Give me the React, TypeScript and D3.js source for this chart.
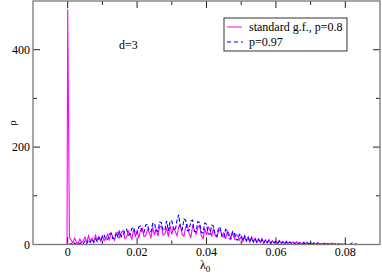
import React from "react";
import * as d3 from "d3";

// histogram bins start at 0 and are binWidth wide
const binWidth = 0.0005;
const leftZero = [-0.01, -0.0002];

const magentaRho = [
  483, 14, 9, 3, 13, 5, 2, 11, 4, 8,
  15, 5, 18, 7, 13, 4, 19, 9, 16, 6,
  18, 8, 12, 21, 10, 24, 16, 9, 22, 26,
  14, 25, 29, 12, 15, 27, 20, 11, 31, 17,
  28, 13, 30, 34, 16, 18, 31, 24, 14, 35,
  20, 33, 17, 36, 38, 19, 22, 34, 16, 39,
  21, 35, 27, 18, 37, 40, 20, 17, 36, 41,
  22, 15, 38, 30, 21, 35, 39, 18, 12, 33,
  20, 36, 31, 16, 33, 19, 15, 29, 30, 17,
  24, 11, 27, 22, 13, 26, 12, 21, 18, 9,
  17, 6, 18, 8, 14, 5, 15, 7, 12, 4,
  11, 4, 12, 3, 9, 5, 10, 2, 8, 4,
  7, 2, 8, 3, 6, 1, 7, 2, 5, 3,
  5, 1, 6, 2, 4, 1, 5, 2, 3, 1,
  4, 1, 3, 0, 4, 1, 2, 0, 3, 1,
  2, 0, 3, 1, 2, 0, 1, 0, 2, 0,
  1, 0, 0, 1, 0, 0, 1, 0, 0, 0,
  0, 0, 0, 0, 0, 0, 0, 0, 0, 0, 0,
];

const blueRho = [
  0, 0, 2, 0, 3, 0, 4, 1, 5, 2,
  7, 2, 9, 4, 11, 5, 12, 6, 14, 8,
  16, 19, 9, 10, 21, 23, 12, 13, 25, 15,
  27, 16, 18, 29, 31, 19, 21, 33, 35, 22,
  23, 36, 38, 24, 25, 40, 41, 27, 26, 43,
  44, 28, 27, 46, 45, 29, 30, 48, 28, 47,
  49, 31, 29, 50, 61, 32, 30, 52, 50, 28,
  29, 48, 50, 27, 26, 47, 45, 25, 24, 44,
  42, 22, 21, 40, 38, 19, 17, 36, 33, 16,
  14, 31, 28, 12, 11, 26, 24, 10, 9, 21,
  19, 8, 17, 7, 15, 6, 14, 5, 12, 5,
  11, 4, 10, 3, 9, 3, 8, 2, 7, 3,
  6, 2, 7, 1, 6, 2, 5, 1, 5, 2,
  4, 1, 5, 1, 4, 0, 3, 1, 4, 1,
  3, 0, 3, 1, 2, 0, 3, 0, 2, 1,
  2, 0, 2, 0, 1, 0, 2, 0, 1, 0,
  1, 0, 0, 0, 3, 0, 1, 0, 0, 0,
  0, 0, 0, 0, 0, 0, 0, 0, 0, 0, 0,
];

const xMajor = [0, 0.02, 0.04, 0.06, 0.08];
const xMinor = [0.01, 0.03, 0.05, 0.07];
const yMajor = [0, 200, 400];
const yMinor = [100, 300];
const legendLabels = ["standard g.f., p=0.8", "p=0.97"];

const W = 382, H = 275;
const left = 33, right = 380, top = 1, bottom = 244.5;
const font = "'Liberation Serif', 'Times New Roman', serif";

function toPoints(vals: number[]): [number, number][] {
  const pts: [number, number][] = leftZero.map((x) => [x, 0] as [number, number]);
  vals.forEach((v, i) => pts.push([i * binWidth, v]));
  return pts;
}

export default function App() {
  const x = d3.scaleLinear().domain([-0.01, 0.09]).range([left, right]);
  const y = d3.scaleLinear().domain([0, 500]).range([bottom, top]);
  const line = d3.line<[number, number]>().x((d) => x(d[0])).y((d) => y(d[1]));
  const fmt = d3.format("");

  return (
    <svg width={W} height={H} style={{position: "absolute", left: 0, top: 0, background: "#fff", fontFamily: font}}>
      <defs>
        <clipPath id="plot">
          <rect x={left} y={top} width={right - left} height={bottom - top} />
        </clipPath>
      </defs>
      <g clipPath="url(#plot)" fill="none" strokeWidth={1.1}>
        <path d={line(toPoints(magentaRho)) || ""} stroke="#ff00ff" />
        <path d={line(toPoints(blueRho)) || ""} stroke="#0000ff" strokeDasharray="4,2" />
      </g>
      {/* ticks, all inward on four sides */}
      <g stroke="#222" strokeWidth={1}>
        {xMajor.map((t) => (
          <g key={"xM" + t}>
            <line x1={x(t)} x2={x(t)} y1={bottom} y2={bottom - 7} />
            <line x1={x(t)} x2={x(t)} y1={top} y2={top + 7} />
          </g>
        ))}
        {xMinor.map((t) => (
          <g key={"xm" + t}>
            <line x1={x(t)} x2={x(t)} y1={bottom} y2={bottom - 4} />
            <line x1={x(t)} x2={x(t)} y1={top} y2={top + 4} />
          </g>
        ))}
        {yMajor.map((t) => (
          <g key={"yM" + t}>
            <line x1={left} x2={left + 7} y1={y(t)} y2={y(t)} />
            <line x1={right} x2={right - 7} y1={y(t)} y2={y(t)} />
          </g>
        ))}
        {yMinor.map((t) => (
          <g key={"ym" + t}>
            <line x1={left} x2={left + 4} y1={y(t)} y2={y(t)} />
            <line x1={right} x2={right - 4} y1={y(t)} y2={y(t)} />
          </g>
        ))}
      </g>
      <rect x={left} y={top} width={right - left} height={bottom - top} fill="none" stroke="#777" strokeWidth={1.3} />
      <g fontSize={12} fill="#000">
        {xMajor.map((t) => (
          <text key={"xl" + t} x={x(t)} y={256} textAnchor="middle">{fmt(t)}</text>
        ))}
        {yMajor.map((t) => (
          <text key={"yl" + t} x={30} y={y(t) + 4} textAnchor="end">{t}</text>
        ))}
        <text x={200} y={269}>λ<tspan fontSize={9} dy={3}>0</tspan></text>
        <text transform="translate(15.5,123) rotate(-90)" textAnchor="middle" fontSize={11}>ρ</text>
        <text x={119} y={49}>d=3</text>
      </g>
      <g>
        <rect x={224} y={18} width={123} height={33} fill="#fff" stroke="#333" strokeWidth={1} />
        <line x1={227} x2={242} y1={27} y2={27} stroke="#ff00ff" strokeWidth={1} />
        <line x1={227} x2={243} y1={42} y2={42} stroke="#0000ff" strokeWidth={1} strokeDasharray="4,3" />
        {legendLabels.map((l, i) => (
          <text key={l} x={249} y={31 + i * 15} fontSize={12}>{l}</text>
        ))}
      </g>
    </svg>
  );
}
